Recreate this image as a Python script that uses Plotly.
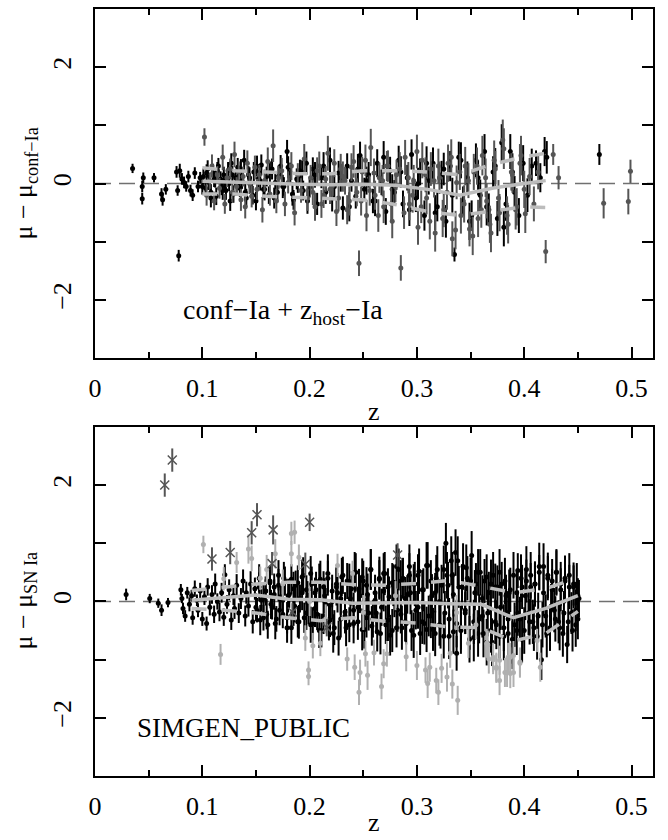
import plotly.graph_objects as go

# ---------------- TOP PANEL DATA ----------------
# spectroscopically confirmed Ia (black)
z_ci = [
0.035,0.044,0.044,0.045,0.055,0.062,0.063,0.066,0.076,0.077,
0.078,0.079,0.081,0.083,0.085,0.087,0.089,0.091,0.093,0.096,
0.098,0.101,0.103,0.105,0.106,0.108,0.110,0.112,0.113,0.115,
0.117,0.118,0.120,0.122,0.124,0.125,0.127,0.129,0.131,0.133,
0.135,0.137,0.139,0.141,0.143,0.145,0.148,0.150,0.152,0.155,
0.157,0.160,0.162,0.165,0.168,0.170,0.173,0.176,0.179,0.182,
0.185,0.188,0.191,0.194,0.197,0.200,0.203,0.207,0.211,0.215,
0.219,0.223,0.227,0.231,0.235,0.239,0.243,0.247,0.251,0.255,
0.259,0.263,0.267,0.271,0.275,0.279,0.283,0.287,0.291,0.295,
0.299,0.303,0.307,0.311,0.315,0.319,0.323,0.327,0.331,0.335,
0.339,0.343,0.347,0.351,0.355,0.359,0.363,0.367,0.371,0.375,
0.379,0.383,0.387,0.391,0.395,0.399,0.403,0.407,0.411,0.415,
0.419,0.421,0.470,
0.100,0.104,0.108,0.111,0.114,0.119,0.121,0.126,0.128,0.132,
0.136,0.140,0.144,0.147,0.151,0.154,0.158,0.163,0.167,0.171,
0.175,0.180,0.184,0.189,0.193,0.198,0.205,0.213,0.221,0.229,
0.237,0.245,0.253,0.261,0.269,0.277,0.285,0.293,0.301,0.309,
0.317,0.325,0.333,0.341,0.349,0.357,0.365,0.373,0.381,0.389]
y_ci = [
0.26,-0.05,-0.26,0.10,0.10,-0.18,-0.28,-0.10,0.20,-0.12,
-1.24,0.22,0.08,0.02,-0.05,0.12,-0.12,-0.20,0.18,-0.05,
0.10,0.12,-0.08,0.25,0.02,-0.15,0.18,0.05,-0.22,0.30,
0.08,-0.05,0.15,-0.12,0.22,0.00,0.35,-0.18,0.10,0.28,
-0.08,0.05,0.40,-0.25,0.15,-0.02,0.20,-0.30,0.08,0.32,
-0.10,0.12,-0.20,0.25,0.02,-0.15,0.30,-0.05,0.55,0.18,
-0.28,0.08,0.22,-0.12,0.35,-0.06,0.25,-0.35,0.10,-0.15,
0.40,-0.05,0.18,-0.42,0.30,0.05,-0.22,0.48,-0.10,0.15,
-0.30,0.35,0.02,-0.48,0.22,-0.15,0.40,-0.35,0.10,0.50,
-0.25,0.20,-0.55,0.05,0.35,-0.40,0.15,-0.65,0.30,-1.22,
0.45,-0.30,0.10,-0.55,0.40,-0.20,0.55,-0.45,0.20,-0.60,
0.70,-0.35,0.55,-0.15,-0.55,0.35,-0.20,0.30,0.35,0.10,
0.55,0.45,0.50,
-0.05,0.18,-0.25,0.08,0.22,-0.12,0.02,-0.30,0.15,-0.02,
0.25,-0.15,0.10,-0.20,0.30,0.05,-0.10,0.20,-0.25,0.12,
-0.05,0.28,-0.18,0.05,0.20,-0.30,0.15,0.30,-0.25,0.10,
-0.40,0.25,0.05,-0.30,0.45,-0.10,0.20,-0.45,0.00,0.35,
-0.50,0.25,-0.20,0.40,-0.65,0.10,-0.40,0.30,-0.75,0.20]
e_ci = [
0.08,0.10,0.10,0.09,0.08,0.10,0.10,0.09,0.10,0.09,
0.10,0.12,0.10,0.10,0.09,0.10,0.10,0.10,0.10,0.10,
0.10,0.14,0.12,0.15,0.13,0.14,0.16,0.12,0.15,0.14,
0.13,0.15,0.14,0.16,0.15,0.13,0.17,0.15,0.14,0.16,
0.15,0.14,0.18,0.16,0.15,0.14,0.17,0.16,0.15,0.18,
0.16,0.17,0.15,0.18,0.16,0.17,0.19,0.16,0.20,0.18,
0.17,0.18,0.19,0.17,0.20,0.18,0.20,0.19,0.18,0.20,
0.22,0.19,0.21,0.20,0.22,0.19,0.21,0.24,0.20,0.22,
0.21,0.24,0.22,0.23,0.24,0.21,0.25,0.23,0.22,0.26,
0.24,0.23,0.26,0.24,0.27,0.25,0.24,0.28,0.26,0.12,
0.27,0.25,0.28,0.26,0.29,0.27,0.30,0.28,0.27,0.30,
0.32,0.29,0.30,0.28,0.30,0.31,0.29,0.30,0.22,0.25,
0.25,0.28,0.18,
0.14,0.15,0.16,0.14,0.15,0.16,0.15,0.17,0.15,0.16,
0.17,0.16,0.18,0.16,0.18,0.17,0.19,0.18,0.18,0.19,
0.20,0.19,0.20,0.21,0.20,0.22,0.22,0.24,0.23,0.24,
0.25,0.26,0.24,0.26,0.28,0.26,0.27,0.28,0.27,0.29,
0.30,0.28,0.30,0.31,0.32,0.30,0.32,0.31,0.33,0.32]

# host-galaxy redshift Ia (dark gray)
z_zh = [
0.102,0.104,0.107,0.109,0.111,0.114,0.116,0.119,0.121,0.123,
0.126,0.128,0.130,0.132,0.134,0.136,0.138,0.140,0.142,0.144,
0.146,0.149,0.151,0.153,0.156,0.158,0.161,0.163,0.166,0.169,
0.171,0.174,0.177,0.180,0.183,0.186,0.189,0.192,0.195,0.198,
0.201,0.205,0.209,0.213,0.217,0.221,0.225,0.229,0.233,0.237,
0.241,0.244,0.246,0.249,0.253,0.257,0.261,0.265,0.269,0.273,
0.277,0.281,0.285,0.289,0.293,0.297,0.301,0.305,0.309,0.313,
0.317,0.321,0.325,0.329,0.333,0.337,0.341,0.345,0.349,0.353,
0.357,0.361,0.365,0.369,0.373,0.377,0.381,0.385,0.389,0.393,
0.397,0.401,0.405,0.409,0.413,0.420,0.427,0.432,0.474,0.497,
0.499,
0.203,0.207,0.211,0.215,0.219,0.223,0.227,0.231,0.235,0.239,
0.243,0.248,0.252,0.256,0.260,0.264,0.268,0.272,0.276,0.280,
0.284,0.288,0.292,0.296,0.300,0.304,0.308,0.312,0.316,0.320,
0.324,0.328,0.332,0.336,0.340,0.344,0.348,0.352,0.356,0.360,
0.364,0.368,0.372,0.376,0.380,0.384,0.388,0.392,0.396,0.400]
y_zh = [
0.80,-0.20,0.05,0.30,-0.30,0.15,-0.08,0.45,-0.35,0.10,
0.25,-0.15,0.50,-0.05,0.20,-0.28,0.12,-0.40,0.35,0.00,
-0.22,0.28,-0.10,0.15,-0.45,0.05,0.38,-0.18,0.65,-0.30,
0.10,0.22,-0.35,0.02,0.30,-0.50,0.15,-0.12,0.42,-0.25,
0.10,-0.40,0.30,-0.20,0.52,-0.05,-0.48,0.25,0.05,-0.30,
0.38,-0.15,-1.37,0.20,-0.55,0.62,-0.20,0.10,-0.40,0.30,
-0.65,0.15,-1.45,0.45,-0.35,0.05,-0.75,0.40,-0.25,0.25,
-0.85,0.10,-0.45,0.35,-0.95,0.02,-0.55,0.30,-0.78,0.20,
-0.60,0.48,-0.30,-0.85,0.25,-0.50,0.60,-0.70,0.15,-0.40,
0.48,-0.52,0.12,-0.35,0.20,-1.17,0.50,0.10,-0.34,-0.31,
0.21,
-0.15,0.22,-0.35,0.08,-0.10,0.35,-0.25,0.12,-0.45,0.28,
0.00,-0.30,0.40,-0.12,0.18,-0.55,0.05,0.30,-0.35,-0.05,
0.25,-0.50,0.10,-0.20,0.55,-0.40,0.15,-0.65,0.05,0.30,
-0.60,-0.15,0.45,-0.80,0.20,-0.35,0.05,-0.90,0.30,-0.45,
0.10,-0.70,0.40,-0.25,0.75,-0.55,0.20,-0.45,0.35,-0.10]
e_zh = [
0.15,0.18,0.14,0.20,0.16,0.15,0.18,0.22,0.17,0.16,
0.18,0.17,0.22,0.16,0.18,0.19,0.17,0.20,0.22,0.18,
0.19,0.20,0.18,0.17,0.22,0.19,0.24,0.20,0.28,0.21,
0.20,0.22,0.21,0.19,0.24,0.22,0.20,0.21,0.26,0.22,
0.22,0.24,0.25,0.22,0.30,0.23,0.25,0.26,0.24,0.25,
0.28,0.24,0.22,0.26,0.27,0.32,0.25,0.26,0.28,0.27,
0.29,0.26,0.22,0.30,0.28,0.27,0.30,0.31,0.28,0.29,
0.32,0.28,0.30,0.32,0.30,0.29,0.31,0.33,0.30,0.31,
0.32,0.34,0.30,0.33,0.31,0.32,0.35,0.33,0.31,0.32,
0.34,0.33,0.32,0.30,0.30,0.20,0.18,0.20,0.26,0.22,
0.20,
0.22,0.23,0.24,0.22,0.25,0.24,0.23,0.26,0.25,0.24,
0.26,0.25,0.27,0.26,0.25,0.28,0.27,0.26,0.28,0.27,
0.29,0.28,0.27,0.30,0.29,0.28,0.30,0.31,0.29,0.30,
0.32,0.30,0.31,0.33,0.31,0.32,0.30,0.33,0.32,0.31,
0.33,0.32,0.34,0.31,0.35,0.33,0.32,0.34,0.33,0.32]

# running mean and +-1 sigma (top)
z_bin_top = [0.10,0.13,0.16,0.19,0.22,0.25,0.28,0.31,0.34,0.37,0.40,0.42]
mean_top = [0.04,0.02,0.00,-0.01,-0.02,-0.01,-0.03,-0.10,-0.20,-0.08,0.00,0.05]
upper_top = [0.27,0.22,0.20,0.17,0.17,0.22,0.22,0.20,0.15,0.33,0.46,0.52]
lower_top = [-0.18,-0.18,-0.22,-0.24,-0.25,-0.28,-0.36,-0.48,-0.55,-0.48,-0.40,-0.41]

# ---------------- BOTTOM PANEL DATA ----------------
z_ia = [
0.029,0.051,0.059,0.062,0.068,0.080,0.081,0.082,0.084,0.086,
0.088,0.090,0.091,0.093,0.095,0.096,0.098,0.100,0.102,0.104,
0.105,0.107,0.109,0.111,0.112,0.114,0.116,0.118,0.120,0.121,
0.123,0.125,0.127,0.129,0.130,0.132,0.134,0.136,0.138,0.140,
0.141,0.143,0.145,0.147,0.149,0.151,0.153,0.155,0.157,0.159,
0.161,0.163,0.165,0.167,0.169,0.171,0.173,0.175,0.177,0.179,
0.181,0.183,0.185,0.187,0.189,0.191,0.193,0.195,0.197,0.199,
0.201,0.203,0.205,0.207,0.209,0.211,0.213,0.215,0.217,0.219,
0.221,0.223,0.225,0.227,0.229,0.231,0.233,0.235,0.237,0.239,
0.241,0.243,0.245,0.247,0.249,0.251,0.253,0.255,0.257,0.259,
0.261,0.263,0.265,0.267,0.269,0.271,0.273,0.275,0.277,0.279,
0.281,0.283,0.285,0.287,0.289,0.291,0.293,0.295,0.297,0.299,
0.301,0.303,0.305,0.307,0.309,0.311,0.313,0.315,0.317,0.319,
0.321,0.323,0.325,0.327,0.328,0.330,0.332,0.334,0.336,0.337,
0.339,0.341,0.343,0.345,0.347,0.349,0.351,0.353,0.355,0.357,
0.359,0.361,0.363,0.365,0.367,0.369,0.371,0.373,0.375,0.377,
0.379,0.381,0.383,0.385,0.387,0.389,0.391,0.393,0.394,0.396,
0.398,0.400,0.402,0.404,0.406,0.408,0.410,0.412,0.414,0.416,
0.418,0.420,0.422,0.424,0.426,0.428,0.430,0.432,0.434,0.436,
0.438,0.440,0.442,0.444,0.446,0.448,0.449,0.450,0.450,0.451,
0.150,0.153,0.154,0.157,0.159,0.160,0.163,0.164,0.167,0.168,
0.171,0.172,0.175,0.176,0.179,0.180,0.183,0.185,0.186,0.189,
0.190,0.193,0.194,0.197,0.198,0.201,0.202,0.205,0.206,0.209,
0.210,0.213,0.214,0.217,0.218,0.221,0.222,0.225,0.226,0.229,
0.230,0.233,0.234,0.237,0.238,0.241,0.242,0.245,0.246,0.249,
0.250,0.253,0.254,0.257,0.258,0.261,0.262,0.265,0.266,0.269,
0.270,0.273,0.274,0.277,0.278,0.281,0.282,0.285,0.286,0.289,
0.290,0.293,0.294,0.297,0.298,0.301,0.302,0.305,0.306,0.309,
0.310,0.313,0.314,0.317,0.318,0.321,0.322,0.325,0.326,0.329,
0.330,0.333,0.334,0.337,0.338,0.341,0.342,0.345,0.346,0.349,
0.350,0.353,0.354,0.357,0.358,0.361,0.362,0.365,0.366,0.369,
0.370,0.373,0.374,0.377,0.378,0.381,0.382,0.385,0.386,0.389,
0.390,0.393,0.394,0.397,0.398,0.401,0.402,0.405,0.406,0.409,
0.410,0.413,0.414,0.417,0.418,0.421,0.422,0.425,0.426,0.429,
0.430,0.433,0.434,0.437,0.438,0.441,0.442,0.445,0.446,0.448]
y_ia = [
0.12,0.05,-0.03,-0.15,-0.02,0.20,0.05,-0.12,-0.25,0.15,
-0.05,0.10,-0.28,0.22,0.02,-0.15,0.18,-0.30,0.08,-0.38,
0.25,-0.10,0.12,-0.22,0.30,0.00,-0.18,0.15,-0.27,0.46,
-0.05,0.20,-0.32,0.10,-0.12,0.28,-0.20,0.05,0.35,-0.25,
0.15,-0.08,0.30,-0.35,0.22,-0.15,0.40,0.02,-0.28,0.18,
-0.40,0.32,-0.10,0.25,-0.30,0.45,0.08,-0.22,0.35,-0.45,
0.12,0.38,-0.18,0.28,-0.35,0.05,0.42,-0.28,0.20,-0.12,
0.48,-0.38,0.15,-0.22,0.35,-0.50,0.25,-0.05,0.40,-0.32,
0.18,-0.45,0.30,-0.63,0.05,0.45,-0.25,0.35,-0.40,0.22,
-0.15,0.50,-0.35,0.10,0.42,-0.48,0.28,-0.20,0.55,-0.30,
0.15,-0.52,0.38,-0.10,0.48,-0.40,0.25,-0.58,0.32,0.05,
-0.45,0.55,-0.22,0.40,-0.35,0.12,0.60,-0.50,0.30,-0.15,
0.45,-0.55,0.20,-0.38,0.62,-0.25,0.35,-0.48,0.15,0.55,
-0.40,0.28,-0.60,1.00,0.45,-0.30,0.70,-0.52,0.84,-0.89,
0.25,-0.45,0.60,-0.20,0.40,-0.65,0.79,-0.35,0.30,-0.55,
0.50,-0.25,0.35,-0.70,0.15,-0.50,0.45,-0.35,0.25,-0.60,
0.30,-0.45,0.10,-0.55,0.20,-0.65,-0.40,0.15,0.53,-0.30,
0.25,-0.50,0.35,-0.20,0.45,-0.35,0.30,-0.60,0.50,-1.00,
0.60,-0.25,0.40,-0.45,0.20,-0.15,0.50,-0.35,0.30,-0.55,
0.35,-0.74,0.45,-0.20,0.25,-0.40,0.30,-0.30,0.10,0.05,
-0.10,0.25,-0.32,0.05,0.18,-0.22,0.35,-0.05,0.12,-0.38,
0.28,-0.15,0.02,0.40,-0.28,0.10,-0.45,0.22,-0.08,0.32,
-0.35,0.15,0.45,-0.20,0.05,-0.40,0.30,-0.12,0.20,-0.50,
0.38,-0.25,0.10,0.48,-0.35,0.00,-0.55,0.25,0.15,-0.30,
0.42,-0.18,-0.45,0.30,0.05,-0.38,0.50,-0.10,0.22,-0.48,
0.35,-0.28,0.12,0.55,-0.42,0.02,-0.20,0.40,-0.55,0.18,
0.48,-0.32,0.08,-0.50,0.28,0.60,-0.15,0.35,-0.45,0.05,
-0.38,0.45,0.15,-0.58,0.30,-0.10,0.52,-0.35,0.20,-0.48,
0.62,-0.25,0.10,-0.55,0.40,0.00,-0.42,0.55,-0.20,0.28,
-0.60,0.45,0.12,-0.38,0.70,-0.50,0.25,-0.15,0.58,-0.45,
0.35,-0.62,0.15,0.50,-0.30,0.05,-0.55,0.42,-0.20,0.30,
-0.70,0.25,-0.40,0.50,-0.10,-0.60,0.35,-0.30,0.15,-0.75,
0.45,-0.50,-0.20,0.40,-0.65,0.10,0.55,-0.35,0.25,-0.45,
0.30,-0.25,0.60,-0.40,0.15,-0.55,0.45,-0.10,0.35,-0.30,
0.50,-0.45,0.20,-0.20,0.40,-0.35,0.25,-0.50,0.30,-0.15]
e_ia = [
0.10,0.08,0.08,0.10,0.08,0.10,0.08,0.10,0.10,0.10,
0.12,0.10,0.12,0.14,0.10,0.12,0.14,0.12,0.14,0.12,
0.15,0.14,0.16,0.15,0.18,0.14,0.16,0.17,0.15,0.18,
0.16,0.18,0.17,0.16,0.18,0.19,0.17,0.18,0.20,0.18,
0.19,0.18,0.22,0.20,0.19,0.21,0.24,0.19,0.22,0.20,
0.24,0.22,0.21,0.23,0.22,0.26,0.22,0.24,0.25,0.26,
0.23,0.26,0.24,0.25,0.27,0.24,0.28,0.26,0.25,0.27,
0.30,0.28,0.26,0.27,0.30,0.29,0.27,0.28,0.30,0.29,
0.28,0.30,0.29,0.30,0.28,0.32,0.30,0.31,0.30,0.29,
0.30,0.33,0.31,0.30,0.32,0.33,0.31,0.30,0.35,0.32,
0.31,0.34,0.33,0.32,0.35,0.33,0.32,0.35,0.34,0.32,
0.34,0.36,0.33,0.35,0.34,0.33,0.38,0.35,0.34,0.33,
0.36,0.37,0.34,0.36,0.40,0.35,0.36,0.37,0.34,0.40,
0.36,0.35,0.38,0.35,0.40,0.36,0.42,0.38,0.40,0.30,
0.36,0.38,0.40,0.36,0.38,0.40,0.42,0.38,0.36,0.40,
0.40,0.37,0.38,0.40,0.36,0.38,0.40,0.38,0.37,0.40,
0.38,0.40,0.36,0.40,0.38,0.42,0.38,0.36,0.30,0.38,
0.38,0.40,0.37,0.38,0.40,0.38,0.37,0.40,0.30,0.35,
0.40,0.37,0.38,0.40,0.36,0.38,0.40,0.37,0.38,0.40,
0.38,0.32,0.38,0.36,0.37,0.38,0.36,0.35,0.30,0.32,
0.24,0.25,0.26,0.24,0.25,0.26,0.27,0.25,0.26,0.27,
0.28,0.26,0.27,0.28,0.27,0.29,0.28,0.29,0.28,0.30,
0.29,0.30,0.31,0.29,0.30,0.31,0.30,0.32,0.31,0.30,
0.32,0.31,0.30,0.33,0.32,0.31,0.33,0.32,0.34,0.32,
0.33,0.34,0.32,0.35,0.33,0.34,0.35,0.33,0.34,0.36,
0.35,0.34,0.36,0.35,0.34,0.36,0.35,0.37,0.36,0.35,
0.37,0.36,0.35,0.37,0.36,0.38,0.37,0.36,0.38,0.37,
0.36,0.38,0.37,0.39,0.38,0.37,0.39,0.38,0.37,0.39,
0.40,0.38,0.37,0.39,0.40,0.38,0.39,0.41,0.38,0.40,
0.39,0.40,0.38,0.41,0.42,0.40,0.39,0.41,0.40,0.38,
0.40,0.41,0.39,0.40,0.42,0.40,0.41,0.39,0.40,0.42,
0.41,0.40,0.42,0.40,0.39,0.41,0.40,0.42,0.40,0.41,
0.40,0.42,0.39,0.41,0.40,0.42,0.40,0.39,0.41,0.40,
0.39,0.40,0.41,0.39,0.40,0.41,0.39,0.40,0.38,0.39,
0.38,0.39,0.37,0.38,0.39,0.37,0.38,0.36,0.37,0.36]

# non-Ia (light gray)
z_nia = [
0.101,0.117,0.120,0.132,0.143,0.146,0.154,0.168,0.183,0.183,
0.186,0.190,0.196,0.199,0.199,0.200,0.203,0.210,0.226,0.235,
0.240,0.242,0.246,0.247,0.250,0.252,0.254,0.260,0.267,0.269,
0.272,0.290,0.300,0.308,0.310,0.312,0.318,0.320,0.323,0.328,
0.331,0.333,0.337,0.338,0.348,0.365,0.367,0.371,0.374,0.377,
0.382,0.385,0.387,0.390,0.396,0.366,0.371,0.374,0.377,0.384,
0.387,0.390,0.396,0.412,0.415,0.160,0.175,0.215,0.280,0.355]
y_nia = [
0.98,-0.91,0.39,0.67,0.90,0.74,0.40,0.82,1.17,0.82,
1.19,0.76,-0.63,-1.18,-1.29,0.00,-0.76,-0.72,0.62,-0.99,
0.48,-1.13,-1.56,-1.22,-0.19,-0.90,-1.27,-0.88,-1.46,-1.07,
-0.90,-0.95,-1.10,-1.18,-1.41,-1.13,-1.36,-1.56,-1.15,-1.30,
-0.89,-1.42,-0.19,-1.70,-0.72,-0.72,-0.99,-0.96,-1.13,-1.01,
-1.22,-0.96,-1.24,-0.93,-1.04,-0.75,-1.00,-1.15,-1.36,-1.22,
-0.96,-1.22,-1.06,-0.67,-1.13,0.55,0.30,-0.30,0.10,-0.40]
e_nia = [
0.15,0.18,0.20,0.18,0.25,0.22,0.20,0.25,0.20,0.22,
0.20,0.22,0.22,0.15,0.15,0.25,0.22,0.22,0.20,0.20,
0.22,0.22,0.22,0.22,0.30,0.22,0.25,0.22,0.22,0.25,
0.22,0.25,0.25,0.22,0.25,0.25,0.22,0.22,0.25,0.25,
0.25,0.25,0.30,0.25,0.25,0.25,0.25,0.25,0.25,0.25,
0.25,0.25,0.25,0.25,0.25,0.25,0.25,0.25,0.25,0.25,
0.25,0.25,0.25,0.20,0.25,0.25,0.25,0.25,0.25,0.25]

# peculiar (dark gray crosses)
z_x = [0.065,0.072,0.109,0.126,0.146,0.151,0.166,0.165,0.196,0.200,0.282,0.184,0.216]
y_x = [2.00,2.43,0.73,0.84,1.18,1.49,1.23,0.65,0.64,1.36,0.80,-0.18,-0.45]
e_x = [0.20,0.20,0.20,0.20,0.20,0.20,0.25,0.20,0.20,0.15,0.20,0.15,0.15]

z_bin_bot = [0.09,0.12,0.15,0.18,0.21,0.24,0.27,0.30,0.33,0.36,0.39,0.42,0.45]
mean_bot = [0.02,0.07,0.11,0.04,0.03,-0.03,-0.03,-0.02,-0.04,-0.05,-0.28,-0.12,0.10]
upper_bot = [0.19,0.25,0.30,0.33,0.33,0.29,0.28,0.31,0.36,0.26,0.15,0.22,0.41]
lower_bot = [-0.12,-0.15,-0.20,-0.28,-0.33,-0.28,-0.34,-0.37,-0.44,-0.45,-0.68,-0.55,-0.17]

x_ticks = [0, 0.1, 0.2, 0.3, 0.4, 0.5]
x_ticklabels = ["0", "0.1", "0.2", "0.3", "0.4", "0.5"]
y_ticks = [-2, 0, 2]
y_ticklabels = ["\u22122", "0", "2"]

# ---------------- FIGURE ----------------
W, H = 668, 840
L, R, T, B = 95, 15, 7, 64
PH = H - T - B
FONT = "Liberation Serif"
BLACK = "#000000"
DARK = "#555555"
LIGHT = "#b0b0b0"
LINE = "#bcbcbc"


def py(p):
    return (H - B - p) / PH


def pxx(p):
    return (p - L) / (W - L - R)


fig = go.Figure()


def pts(x, y, e, color, xa, ya, symbol="circle", size=5):
    mk = dict(color=color, size=size, symbol=symbol)
    if symbol.startswith("x"):
        mk = dict(color=color, size=size, symbol=symbol, line=dict(color=color, width=1.5))
    fig.add_trace(go.Scatter(
        x=x, y=y, mode="markers", xaxis=xa, yaxis=ya, showlegend=False,
        marker=mk,
        error_y=dict(type="data", array=e, visible=True, thickness=2, width=0, color=color),
    ))


def line(x, y, xa, ya, dash=None):
    fig.add_trace(go.Scatter(
        x=x, y=y, mode="lines", xaxis=xa, yaxis=ya, showlegend=False,
        line=dict(color=LINE, width=3.5, dash=dash),
    ))


# top
pts(z_ci, y_ci, e_ci, BLACK, "x", "y")
pts(z_zh, y_zh, e_zh, DARK, "x", "y")
line(z_bin_top, mean_top, "x", "y")
line(z_bin_top, upper_top, "x", "y", dash="15px,15px")
line(z_bin_top, lower_top, "x", "y", dash="15px,15px")

# bottom
pts(z_ia, y_ia, e_ia, BLACK, "x2", "y2")
pts(z_nia, y_nia, e_nia, LIGHT, "x2", "y2")
pts(z_x, y_x, e_x, DARK, "x2", "y2", symbol="x-thin-open", size=9)
line(z_bin_bot, mean_bot, "x2", "y2")
line(z_bin_bot, upper_bot, "x2", "y2", dash="15px,15px")
line(z_bin_bot, lower_bot, "x2", "y2", dash="15px,15px")

for ya in ["y", "y2"]:
    fig.add_shape(type="line", xref=("x" if ya == "y" else "x2") + " domain", x0=0, x1=1,
                  yref=ya, y0=0, y1=0, layer="below",
                  line=dict(color="#707070", width=1.5, dash="16px,8px"))

xcommon = dict(range=[0, 0.52], tickvals=x_ticks, ticktext=x_ticklabels,
               ticks="inside", ticklen=11, tickwidth=1.5, tickcolor="black",
               showline=True, linecolor="black", linewidth=2, mirror="ticks",
               showgrid=False, zeroline=False,
               tickfont=dict(family=FONT, size=26, color="black"),
               ticklabelstandoff=6,
               minor=dict(dtick=0.05, tick0=0, ticks="inside", ticklen=6,
                          tickwidth=1.5, tickcolor="black", showgrid=False))
ycommon = dict(range=[-3, 3], tickvals=y_ticks, ticktext=y_ticklabels,
               ticks="inside", ticklen=11, tickwidth=1.5, tickcolor="black",
               showline=True, linecolor="black", linewidth=2, mirror="ticks",
               showgrid=False, zeroline=False, tickangle=-90,
               tickfont=dict(family=FONT, size=26, color="black"),
               ticklabelstandoff=12,
               minor=dict(dtick=1, tick0=0, ticks="inside", ticklen=11,
                          tickwidth=1.5, tickcolor="black", showgrid=False))

top_dom = [py(357), 1.0]
bot_dom = [0.0, py(426)]

fig.update_layout(
    width=W, height=H, autosize=False,
    margin=dict(l=L, r=R, t=T, b=B),
    paper_bgcolor="white", plot_bgcolor="white",
    font=dict(family=FONT, size=26, color="black"),
    xaxis=dict(domain=[0, 1], anchor="y", **xcommon),
    yaxis=dict(domain=top_dom, anchor="x", **ycommon),
    xaxis2=dict(domain=[0, 1], anchor="y2", **xcommon),
    yaxis2=dict(domain=bot_dom, anchor="x2", **ycommon),
)

ann = [
    dict(text="z", x=pxx(374), y=py(411)),
    dict(text="z", x=pxx(374), y=py(823)),
    dict(text="\u03bc \u2212 \u03bc<sub>conf\u2212Ia</sub>", x=pxx(25), y=py(182), textangle=-90),
    dict(text="\u03bc \u2212 \u03bc<sub>SN Ia</sub>", x=pxx(25), y=py(601), textangle=-90),
]
for a in ann:
    fig.add_annotation(xref="paper", yref="paper", showarrow=False,
                       xanchor="center", yanchor="middle",
                       font=dict(family=FONT, size=26, color="black"), **a)

fig.add_annotation(xref="paper", yref="paper", showarrow=False,
                   text="conf\u2212Ia + z<sub>host</sub>\u2212Ia",
                   x=pxx(181), y=py(310), xanchor="left", yanchor="middle",
                   font=dict(family=FONT, size=28, color="black"))
fig.add_annotation(xref="paper", yref="paper", showarrow=False,
                   text="SIMGEN_PUBLIC",
                   x=pxx(135), y=py(728), xanchor="left", yanchor="middle",
                   font=dict(family=FONT, size=27, color="black"))

fig.write_html("out.html")
